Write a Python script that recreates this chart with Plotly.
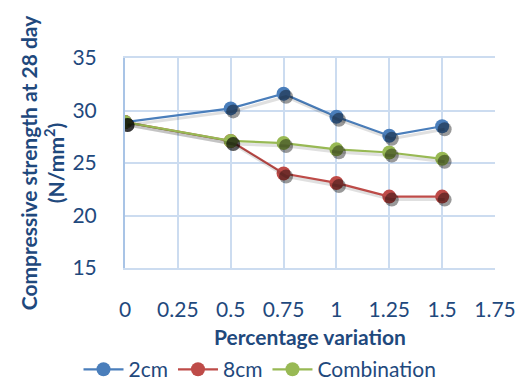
import plotly.graph_objects as go

x_vals = [0, 0.5, 0.75, 1, 1.25, 1.5]
s_2cm = [28.9, 30.2, 31.6, 29.4, 27.6, 28.5]
s_8cm = [28.9, 27.1, 24.0, 23.1, 21.8, 21.8]
s_comb = [28.9, 27.1, 26.9, 26.3, 26.0, 25.4]
names = ["2cm", "8cm", "Combination"]
colors = ["#4A7EBB", "#BE4B48", "#98B954"]
series = [s_2cm, s_8cm, s_comb]

TXT = "#1F497D"
FONT = "Lato"

fig = go.Figure()

# shadows (same data drawn on slightly offset overlay axes)
for ys in series:
    fig.add_trace(go.Scatter(x=x_vals, y=ys, mode="lines+markers", xaxis="x2", yaxis="y2",
                             line=dict(color="rgba(0,0,0,0.12)", width=3),
                             marker=dict(size=14, color="rgba(0,0,0,0.4)"),
                             showlegend=False, hoverinfo="skip"))

for nm, ys, c in zip(names, series, colors):
    fig.add_trace(go.Scatter(x=x_vals, y=ys, mode="lines+markers", name=nm,
                             line=dict(color=c, width=2.25),
                             marker=dict(size=14, color=c)))

px_x = 1.75 / 370
px_y = 20 / 210
fig.update_layout(
    width=520, height=385,
    margin=dict(l=125, r=25, t=58, b=117, autoexpand=False),
    paper_bgcolor="white", plot_bgcolor="white",
    font=dict(family=FONT, color=TXT, size=21),
    xaxis=dict(range=[0, 1.75], dtick=0.25, tick0=0, showgrid=True, gridcolor="#CCDCF0", gridwidth=1.5,
               zeroline=False, showline=True, linecolor="#CCDCF0", linewidth=1.5, mirror=True,
               ticks="", ticklabelstandoff=22, automargin=False, tickfont=dict(size=21),
               ticklabeloverflow="allow",
               title=dict(text="<b>Percentage variation</b>", font=dict(size=21, color=TXT), standoff=14)),
    yaxis=dict(range=[15, 35], dtick=5, showgrid=True, gridcolor="#CCDCF0", gridwidth=1.5,
               zeroline=False, showline=True, linecolor="#A9C4E6", linewidth=2,
               ticks="", ticklabelstandoff=22, automargin=False, tickfont=dict(size=21),
               title=dict(text="<b>Compressive strength at 28 day<br>(N/mm<sup>2</sup>)</b>",
                          font=dict(size=21, color=TXT), standoff=2)),
    xaxis2=dict(overlaying="x", range=[0 - 2.5 * px_x, 1.75 - 2.5 * px_x], visible=False),
    yaxis2=dict(overlaying="y", range=[15 + 3 * px_y, 35 + 3 * px_y], visible=False),
    legend=dict(orientation="h", x=0.5, xanchor="center", xref="container",
                y=0.04, yanchor="middle", yref="container",
                font=dict(size=21, color=TXT), itemwidth=40, tracegroupgap=0),
)

fig.write_html("out.html", config={"displayModeBar": False},
               post_script="document.body.style.margin='0px';document.body.style.overflow='hidden';")
